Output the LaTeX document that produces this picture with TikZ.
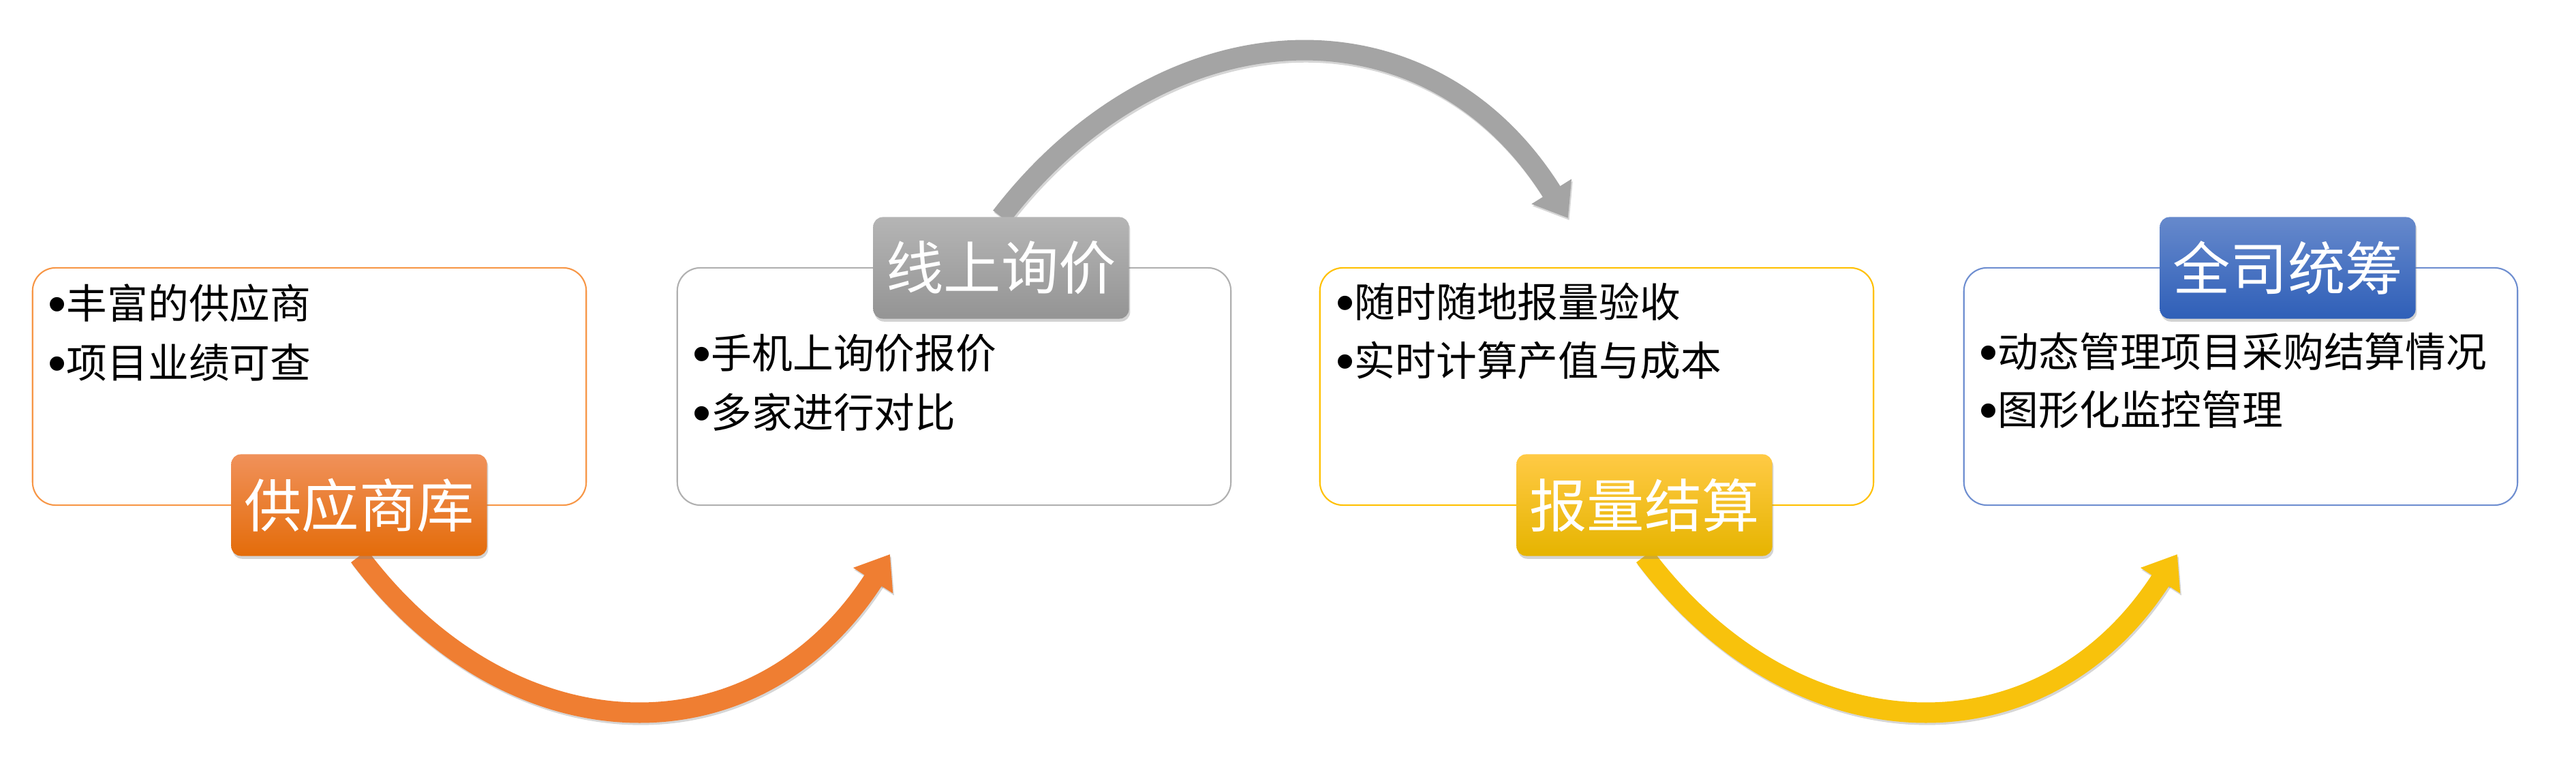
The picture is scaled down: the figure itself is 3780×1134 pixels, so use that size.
\documentclass[tikz,border=0pt]{standalone}
\usepackage{fontspec}
\setmainfont{Noto Sans CJK SC}
\newfontfamily\bulletfont{Liberation Sans}
\usetikzlibrary{arrows.meta,shadows,calc}
\definecolor{lineO}{HTML}{F79646}
\definecolor{lineG}{HTML}{B0B0B0}
\definecolor{lineY}{HTML}{FFC000}
\definecolor{lineB}{HTML}{6E8ED0}
\definecolor{tagOt}{HTML}{F0915A}
\definecolor{tagOb}{HTML}{E46C0A}
\definecolor{tagGt}{HTML}{B5B5B5}
\definecolor{tagGb}{HTML}{949494}
\definecolor{tagYt}{HTML}{FFCA45}
\definecolor{tagYb}{HTML}{E6B400}
\definecolor{tagBt}{HTML}{6689CC}
\definecolor{tagBb}{HTML}{2F5FB8}
\definecolor{arrO}{HTML}{EF7E32}
\definecolor{arrG}{HTML}{A4A4A4}
\definecolor{arrY}{HTML}{F8C20C}
\newcommand{\bul}{\raisebox{-1.4pt}{\bulletfont\fontsize{22}{22}\selectfont •}}
\begin{document}
\begin{tikzpicture}[x=0.01cm,y=-0.01cm,
  card/.style={draw, line width=0.6pt, rounded corners=0.34cm, minimum width=8.12cm, minimum height=3.48cm, fill=white, inner sep=0},
  tag/.style={rounded corners=0.14cm, minimum width=3.75cm, minimum height=1.49cm, inner sep=0, text=white, font=\fontsize{24}{28}\selectfont, drop shadow={opacity=0.35, shadow xshift=0.5pt, shadow yshift=-1.2pt}},
  item/.style={anchor=west, inner sep=0, font=\fontsize{17}{20}\selectfont},
  flow/.style={line width=0.3cm, -{Triangle[length=0.46cm,width=0.66cm]}},
  flowshadow/.style={flow, draw=black, opacity=0.16, transform canvas={xshift=0.5pt, yshift=-0.9pt}}
]
\useasboundingbox (0,0) rectangle (3780,1134);
% cards
\node[card, draw=lineO] (box1) at (454,567) {};
\node[card, draw=lineG] (box2) at (1400,567) {};
\node[card, draw=lineY] (box3) at (2343,567) {};
\node[card, draw=lineB] (box4) at (3288,567) {};
% card texts
\node[item] (t11) at (70,445) {\bul 丰富的供应商};
\node[item] (t12) at (70,532) {\bul 项目业绩可查};
\node[item] (t21) at (1016,518) {\bul 手机上询价报价};
\node[item] (t22) at (1016,605) {\bul 多家进行对比};
\node[item] (t31) at (1960,443) {\bul 随时随地报量验收};
\node[item] (t32) at (1960,529) {\bul 实时计算产值与成本};
\node[item] (t41) at (2904,516) {\bul 动态管理项目采购结算情况};
\node[item] (t42) at (2904,601) {\bul 图形化监控管理};
% tag positions
\coordinate (p1) at (527,741);
\coordinate (p2) at (1469,393);
\coordinate (p3) at (2413,741);
\coordinate (p4) at (3357,393);
% arrow ends and controls
\coordinate (s1) at ($(p1)+(0,75)$);
\coordinate (s2) at ($(p2)+(0,-75)$);
\coordinate (s3) at ($(p3)+(0,75)$);
\coordinate (e1) at (1306,813);
\coordinate (e2) at (2301,320);
\coordinate (e3) at (3195,813);
\coordinate (c1a) at ($(s1)+(221,294)$);
\coordinate (c1b) at ($(e1)+(-199,309)$);
\coordinate (c2a) at ($(s2)+(238,-309)$);
\coordinate (c2b) at ($(e2)+(-207,-332)$);
\coordinate (c3a) at ($(s3)+(221,294)$);
\coordinate (c3b) at ($(e3)+(-199,309)$);
% arrow shadows
\draw[flowshadow] (s1) .. controls (c1a) and (c1b) .. (e1);
\draw[flowshadow] (s2) .. controls (c2a) and (c2b) .. (e2);
\draw[flowshadow] (s3) .. controls (c3a) and (c3b) .. (e3);
% arrows
\draw[flow, draw=arrO] (s1) .. controls (c1a) and (c1b) .. (e1);
\draw[flow, draw=arrG] (s2) .. controls (c2a) and (c2b) .. (e2);
\draw[flow, draw=arrY] (s3) .. controls (c3a) and (c3b) .. (e3);
% tags
\node[tag, top color=tagOt, bottom color=tagOb] (lab1) at (p1) {供应商库};
\node[tag, top color=tagGt, bottom color=tagGb] (lab2) at (p2) {线上询价};
\node[tag, top color=tagYt, bottom color=tagYb] (lab3) at (p3) {报量结算};
\node[tag, top color=tagBt, bottom color=tagBb] (lab4) at (p4) {全司统筹};
\end{tikzpicture}
\end{document}
